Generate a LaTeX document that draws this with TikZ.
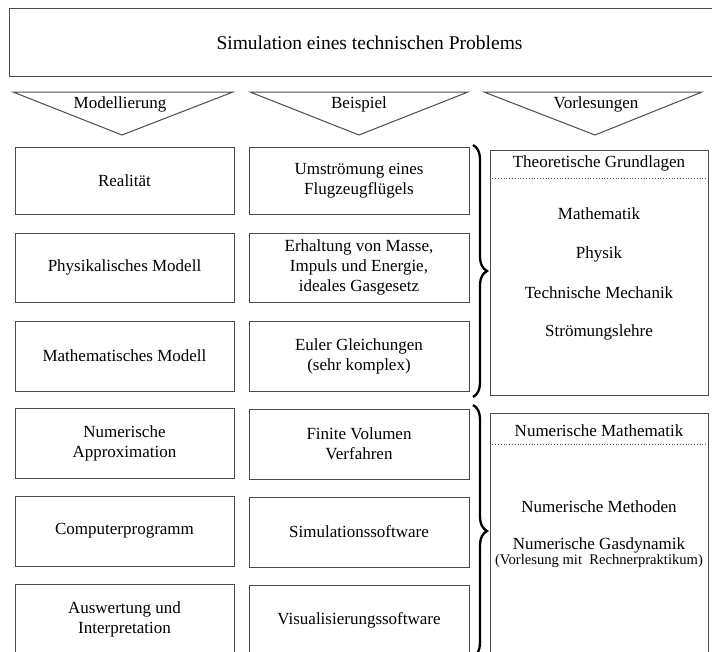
\documentclass[tikz,border=0pt]{standalone}
\usepackage{fontspec}
\setmainfont{Liberation Serif}
\usetikzlibrary{decorations.pathreplacing}
\begin{document}
\begin{tikzpicture}[x=1pt,y=-1pt,
  box/.style={draw=black!70, line width=1pt, inner sep=2pt, align=center,
    font=\fontsize{17}{20}\selectfont},
  tri/.style={draw=black!70, line width=1pt},
  lbl/.style={font=\fontsize{17}{20}\selectfont, inner sep=0pt},
  sm/.style={font=\fontsize{14.6}{17}\selectfont, inner sep=0pt},
  brc/.style={draw=black, line width=2.3pt, decorate, decoration={brace, amplitude=14pt}},
  sep/.style={draw=black!70, line width=0.8pt, dotted}
]
\useasboundingbox (0,0) rectangle (712,651);
\clip (0,0) rectangle (712,651);

% title
\node[box, minimum width=720pt, minimum height=68pt, anchor=north west,
  font=\fontsize{19.5}{23}\selectfont] (title) at (9,8) {Simulation eines technischen Problems};

% triangles
\draw[tri] (13,92) -- (233,92) -- (122,135) -- cycle;
\node[lbl] (t1) at (120,104) {Modellierung};
\draw[tri] (250,92) -- (468,92) -- (359,135) -- cycle;
\node[lbl] (t2) at (359,104) {Beispiel};
\draw[tri] (484,92) -- (702,92) -- (595,135) -- cycle;
\node[lbl] (t3) at (596,104) {Vorlesungen};

% left column
\node[box, minimum width=219pt, minimum height=67pt] (l1) at (124.5,180.5) {Realität};
\node[box, minimum width=219pt, minimum height=69pt] (l2) at (124.5,267.5) {Physikalisches Modell};
\node[box, minimum width=219pt, minimum height=70pt] (l3) at (124.5,356) {Mathematisches Modell};
\node[box, minimum width=219pt, minimum height=70pt] (l4) at (124.5,443) {Numerische\\Approximation};
\node[box, minimum width=219pt, minimum height=70pt] (l5) at (124.5,531) {Computerprogramm};
\node[box, minimum width=219pt, minimum height=70pt] (l6) at (124.5,619) {Auswertung und\\Interpretation};

% middle column
\node[box, minimum width=220pt, minimum height=67pt] (m1) at (359,180.5) {Umströmung eines\\Flugzeugflügels};
\node[box, minimum width=220pt, minimum height=69pt] (m2) at (359,267.5) {Erhaltung von Masse,\\Impuls und Energie,\\ideales Gasgesetz};
\node[box, minimum width=220pt, minimum height=70pt] (m3) at (359,356) {Euler Gleichungen\\(sehr komplex)};
\node[box, minimum width=220pt, minimum height=70pt] (m4) at (359,444) {Finite Volumen\\Verfahren};
\node[box, minimum width=220pt, minimum height=70pt] (m5) at (359,532) {Simulationssoftware};
\node[box, minimum width=220pt, minimum height=70pt] (m6) at (359,620) {Visualisierungssoftware};

% braces
\coordinate (b1s) at (473,145);
\coordinate (b1e) at (473,397);
\draw[brc] (b1s) -- (b1e);
\coordinate (b2s) at (473,405);
\coordinate (b2e) at (473,657);
\draw[brc] (b2s) -- (b2e);

% right boxes
\node[box, minimum width=218pt, minimum height=245pt] (r1) at (599,272.5) {};
\node[lbl] (r1h) at (599,163) {Theoretische Grundlagen};
\draw[sep] (r1.west |- 0,178) -- (r1.east |- 0,178);
\node[lbl] (r1a) at (599,214) {Mathematik};
\node[lbl] (r1b) at (599,254) {Physik};
\node[lbl] (r1c) at (599,293) {Technische Mechanik};
\node[lbl] (r1d) at (599,332) {Strömungslehre};

\node[box, minimum width=218pt, minimum height=260pt] (r2) at (599,543) {};
\node[lbl] (r2h) at (599,431) {Numerische Mathematik};
\draw[sep] (r2.west |- 0,444) -- (r2.east |- 0,444);
\node[lbl] (r2a) at (599,507) {Numerische Methoden};
\node[lbl] (r2b) at (599,545) {Numerische Gasdynamik};
\node[sm] (r2c) at (599,561) {(Vorlesung mit~ Rechnerpraktikum)};
\end{tikzpicture}
\end{document}
